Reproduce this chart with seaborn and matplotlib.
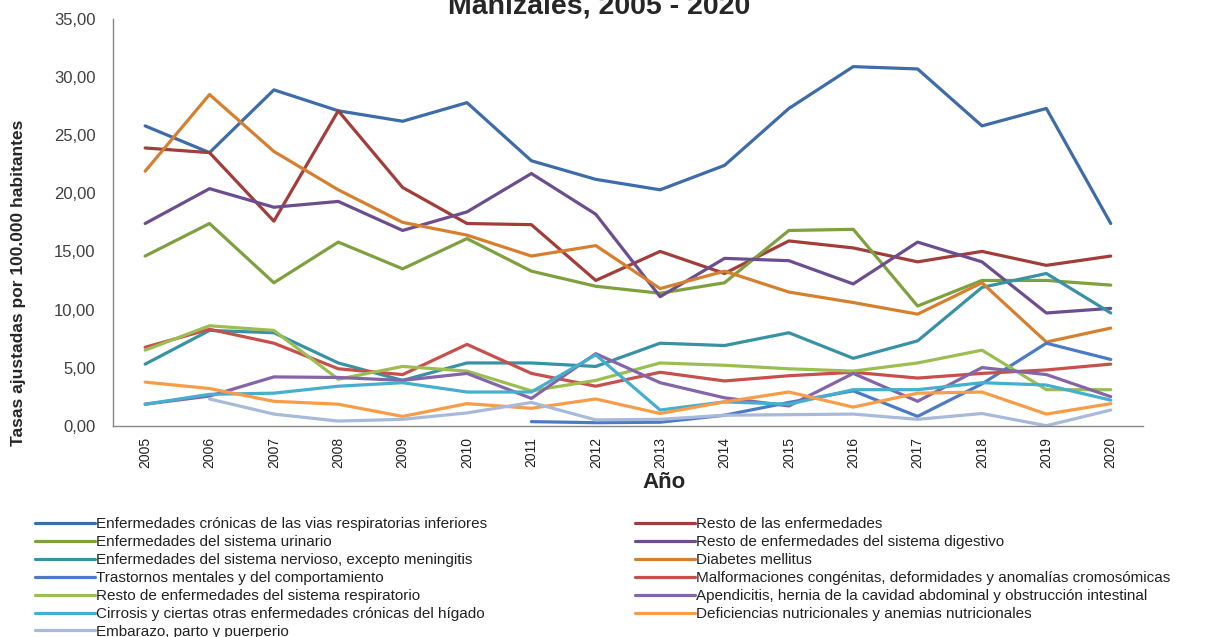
import numpy as np
import pandas as pd
import matplotlib
matplotlib.use('Agg')
import matplotlib.pyplot as plt
from matplotlib import font_manager
import seaborn as sns

years = list(range(2005, 2021))

cronicas_resp = [25.8, 23.5, 28.9, 27.1, 26.2, 27.8, 22.8, 21.2, 20.3, 22.4, 27.3, 30.9, 30.7, 25.8, 27.3, 17.4]
resto_enf = [23.9, 23.5, 17.6, 27.1, 20.5, 17.4, 17.3, 12.5, 15.0, 13.1, 15.9, 15.3, 14.1, 15.0, 13.8, 14.6]
urinario = [14.6, 17.4, 12.3, 15.8, 13.5, 16.1, 13.3, 12.0, 11.4, 12.3, 16.8, 16.9, 10.3, 12.5, 12.5, 12.1]
digestivo = [17.4, 20.4, 18.8, 19.3, 16.8, 18.4, 21.7, 18.2, 11.1, 14.4, 14.2, 12.2, 15.8, 14.1, 9.7, 10.1]
nervioso = [5.3, 8.2, 8.0, 5.4, 3.9, 5.4, 5.4, 5.1, 7.1, 6.9, 8.0, 5.8, 7.3, 11.9, 13.1, 9.7]
diabetes = [21.9, 28.5, 23.6, 20.3, 17.5, 16.4, 14.6, 15.5, 11.8, 13.3, 11.5, 10.6, 9.6, 12.3, 7.2, 8.4]
mentales = [None, None, None, None, None, None, 0.35, 0.26, 0.3, 0.9, 2.0, 3.0, 0.8, 3.6, 7.1, 5.7]
malformaciones = [6.75, 8.3, 7.1, 4.9, 4.4, 7.0, 4.5, 3.4, 4.6, 3.85, 4.3, 4.6, 4.1, 4.5, 4.8, 5.3]
resto_resp = [6.5, 8.6, 8.2, 4.0, 5.1, 4.7, 3.0, 3.9, 5.4, 5.2, 4.9, 4.7, 5.4, 6.5, 3.1, 3.1]
apendicitis = [1.85, 2.55, 4.2, 4.15, 3.9, 4.5, 2.35, 6.2, 3.7, 2.4, 1.7, 4.5, 2.1, 5.0, 4.4, 2.5]
cirrosis = [1.85, 2.7, 2.8, 3.4, 3.7, 2.9, 2.9, 6.1, 1.35, 2.05, 1.85, 3.1, 3.1, 3.7, 3.5, 2.2]
deficiencias = [3.75, 3.2, 2.1, 1.85, 0.8, 1.9, 1.5, 2.3, 1.05, 2.05, 2.9, 1.6, 2.8, 2.9, 1.0, 1.9]
embarazo = [None, 2.3, 1.0, 0.4, 0.55, 1.1, 2.0, 0.5, 0.55, 0.9, 0.95, 1.0, 0.55, 1.05, 0.0, 1.35]

series = [
    ("Enfermedades crónicas de las vias respiratorias inferiores", cronicas_resp, "#3D6CA8"),
    ("Resto de las enfermedades", resto_enf, "#A23D3A"),
    ("Enfermedades del sistema urinario", urinario, "#7EA03F"),
    ("Resto de enfermedades del sistema digestivo", digestivo, "#6C4E8E"),
    ("Enfermedades del sistema nervioso, excepto meningitis", nervioso, "#3892A6"),
    ("Diabetes mellitus", diabetes, "#D6802F"),
    ("Trastornos mentales y del comportamiento", mentales, "#4A7BC4"),
    ("Malformaciones congénitas, deformidades y anomalías cromosómicas", malformaciones, "#C5504C"),
    ("Resto de enfermedades del sistema respiratorio", resto_resp, "#9BBE52"),
    ("Apendicitis, hernia de la cavidad abdominal y obstrucción intestinal", apendicitis, "#8465A8"),
    ("Cirrosis y ciertas otras enfermedades crónicas del hígado", cirrosis, "#45AFCE"),
    ("Deficiencias nutricionales y anemias nutricionales", deficiencias, "#F89C48"),
    ("Embarazo, parto y puerperio", embarazo, "#A8BADA"),
]

rows = []
for name, vals, _ in series:
    for y, v in zip(years, vals):
        if v is not None:
            rows.append({"Año": y, "Tasa": v, "Causa": name})
df = pd.DataFrame(rows)
names = [s[0] for s in series]
palette = {s[0]: s[2] for s in series}

sns.set_style("white")
available = {f.name for f in font_manager.fontManager.ttflist}
narrow = "Liberation Sans Narrow" if "Liberation Sans Narrow" in available else "Liberation Sans"
plt.rcParams['font.family'] = ['Liberation Sans', 'DejaVu Sans']

fig = plt.figure(figsize=(12.12, 6.37), dpi=100)
ax = fig.add_axes([0.0932, 0.3317, 0.8498, 0.6385])

sns.lineplot(data=df, x="Año", y="Tasa", hue="Causa", hue_order=names,
             palette=palette, linewidth=2.3, legend=False, ax=ax)

ax.set_xlim(2004.5, 2020.5)
ax.set_ylim(0, 35)
ax.set_yticks(np.arange(0, 36, 5))
ax.set_yticklabels([f"{v:.2f}".replace(".", ",") for v in np.arange(0, 36, 5)],
                   fontsize=12, color="#404040")
ax.set_xticks(years)
ax.set_xticklabels([str(y) for y in years], rotation=90, fontsize=10,
                   family=narrow, color="#222222")
ax.set_xticks(np.arange(2004.5, 2021, 1), minor=True)
ax.tick_params(axis='x', which='major', length=0, pad=8)
ax.tick_params(axis='x', which='minor', length=5, color="#868686", direction='out')
ax.tick_params(axis='y', length=3.5, color="#868686", direction='out', pad=9)
for s in ['top', 'right']:
    ax.spines[s].set_visible(False)
for s in ['left', 'bottom']:
    ax.spines[s].set_color("#868686")
    ax.spines[s].set_linewidth(1)

ax.set_xlabel("")
ax.set_ylabel("")
fig.text(664 / 1212, 1 - 482 / 637, "Año", ha='center', va='center',
         fontsize=16, fontweight='bold')
fig.text(0.015, 1 - 283 / 637, "Tasas ajustadas por 100.000 habitantes", rotation=90,
         ha='center', va='center', fontsize=12.5, fontweight='bold', family=narrow)

fig.text(0.494, 1 - 13 / 637, "Manizales, 2005 - 2020", ha='center', va='baseline',
         fontsize=20.5, fontweight='bold')

lines = ax.get_lines()
left = [i for i in range(len(names)) if i % 2 == 0]
right = [i for i in range(len(names)) if i % 2 == 1]
common = dict(frameon=False, handlelength=3.9, handletextpad=0.12, labelspacing=0.26,
              borderpad=0, borderaxespad=0, loc='upper left',
              prop={'family': narrow, 'size': 11})
leg1 = fig.legend([lines[i] for i in left], [names[i] for i in left],
                  bbox_to_anchor=(35 / 1212, 1 - 517 / 637), **common)
leg2 = fig.legend([lines[i] for i in right], [names[i] for i in right],
                  bbox_to_anchor=(635 / 1212, 1 - 517 / 637), **common)
for leg in (leg1, leg2):
    for t in leg.get_texts():
        t.set_color("#222222")

fig.savefig("out.png", dpi=100, facecolor="white")
